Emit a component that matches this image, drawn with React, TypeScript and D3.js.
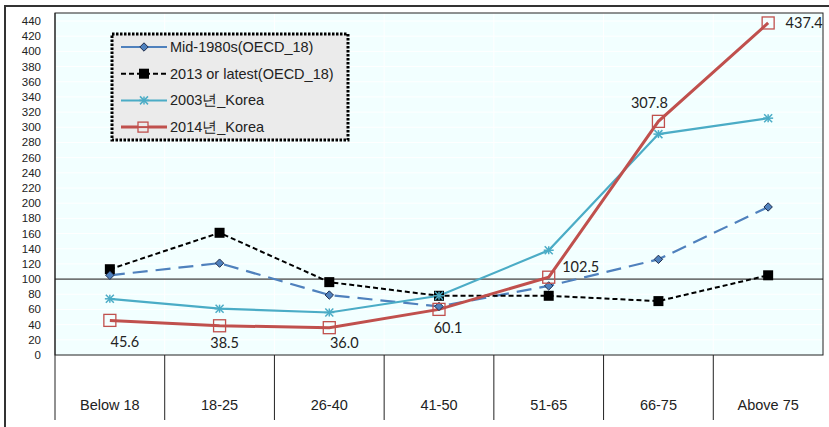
import React, { useEffect, useRef } from 'react'
import * as d3 from 'd3'

const categories = ['Below 18', '18-25', '26-40', '41-50', '51-65', '66-75', 'Above 75']
const mid1980s = [105, 121, 79, 64, 91, 126, 195]
const latest2013 = [113, 161, 96, 78, 78, 71, 105]
const korea2003 = [74, 61, 56, 78, 138, 291, 312]
const korea2014 = [45.6, 38.5, 36.0, 60.1, 102.5, 307.8, 437.4]
const yTicks = d3.range(0, 441, 20)

const W = 829
const H = 427

const App = () => {
  const ref = useRef<SVGGElement | null>(null)

  useEffect(() => {
    const g = d3.select(ref.current)
    g.selectAll('*').remove()

    const left = 55, right = 823, top = 13, bottom = 355, tableBottom = 420

    // scales
    const x = d3.scaleBand().domain(categories).range([left, right])
    const cx = (i: number) => (x(categories[i]) as number) + x.bandwidth() / 2
    const y = d3.scaleLinear().domain([0, 440]).range([bottom, 21])

    // outer frame
    g.append('rect').attr('x', 5).attr('y', 6).attr('width', 840).attr('height', 440)
      .attr('fill', 'white').attr('stroke', '#333').attr('stroke-width', 2)

    // plot background
    g.append('rect').attr('x', left).attr('y', top).attr('width', right - left).attr('height', bottom - top)
      .attr('fill', '#f2ffff')

    // gridlines
    g.append('g').selectAll('line').data(yTicks.slice(1)).enter().append('line')
      .attr('x1', left).attr('x2', right).attr('y1', d => y(d)).attr('y2', d => y(d))
      .attr('stroke', '#ffffff').attr('stroke-width', 1)
    g.append('g').selectAll('line').data(categories.slice(1)).enter().append('line')
      .attr('x1', d => x(d) as number).attr('x2', d => x(d) as number)
      .attr('y1', top).attr('y2', bottom)
      .attr('stroke', '#ffffff').attr('stroke-width', 1)

    // plot border
    g.append('rect').attr('x', left).attr('y', top).attr('width', right - left).attr('height', bottom - top)
      .attr('fill', 'none').attr('stroke', '#222').attr('stroke-width', 1)

    // 100 reference line
    g.append('line').attr('x1', left).attr('x2', right).attr('y1', y(100)).attr('y2', y(100))
      .attr('stroke', '#111').attr('stroke-width', 1)

    // y axis labels
    g.append('g').selectAll('text').data(yTicks).enter().append('text')
      .attr('x', 41).attr('y', d => y(d)).attr('dy', '0.35em')
      .attr('text-anchor', 'end').attr('font-family', 'Arial, Liberation Sans, sans-serif')
      .attr('font-size', 11.5).attr('fill', '#222').text(d => d)

    // category table
    const tbl = g.append('g')
    tbl.append('line').attr('x1', left).attr('x2', left).attr('y1', top).attr('y2', tableBottom)
      .attr('stroke', '#222')
    tbl.selectAll('line.sep').data(categories.slice(1)).enter().append('line')
      .attr('class', 'sep')
      .attr('x1', d => x(d) as number).attr('x2', d => x(d) as number)
      .attr('y1', bottom).attr('y2', tableBottom).attr('stroke', '#222')
    tbl.selectAll('text').data(categories).enter().append('text')
      .attr('x', d => (x(d) as number) + x.bandwidth() / 2).attr('y', 410)
      .attr('text-anchor', 'middle').attr('font-family', 'Arial, Liberation Sans, sans-serif')
      .attr('font-size', 14.5).attr('fill', '#222').text(d => d)

    const line = d3.line<number>().x((_, i) => cx(i)).y(d => y(d))

    // Mid-1980s
    g.append('path').datum(mid1980s).attr('d', line).attr('fill', 'none')
      .attr('stroke', '#4f81bd').attr('stroke-width', 2.2).attr('stroke-dasharray', '15,8')
    // 2013
    g.append('path').datum(latest2013).attr('d', line).attr('fill', 'none')
      .attr('stroke', '#000').attr('stroke-width', 2).attr('stroke-dasharray', '5,3')
    // 2003 Korea
    g.append('path').datum(korea2003).attr('d', line).attr('fill', 'none')
      .attr('stroke', '#4bacc6').attr('stroke-width', 2.2)
    // 2014 Korea
    g.append('path').datum(korea2014).attr('d', line).attr('fill', 'none')
      .attr('stroke', '#c0504d').attr('stroke-width', 3)

    const diamond = (sel: any, px: number, py: number) =>
      sel.append('path').attr('d', d3.symbol(d3.symbolDiamond2, 45)())
        .attr('transform', `translate(${px},${py})`)
        .attr('fill', '#4f81bd').attr('stroke', '#1f2d4d').attr('stroke-width', 1)
    const square = (sel: any, px: number, py: number) =>
      sel.append('rect').attr('x', px - 5).attr('y', py - 5).attr('width', 10).attr('height', 10)
        .attr('fill', '#000')
    const star = (sel: any, px: number, py: number) => {
      const s = sel.append('g').attr('transform', `translate(${px},${py})`)
        .attr('stroke', '#4bacc6').attr('stroke-width', 1.5)
      s.append('line').attr('x1', -5).attr('x2', 5).attr('y1', 0).attr('y2', 0)
      s.append('line').attr('x1', -4).attr('x2', 4).attr('y1', -4).attr('y2', 4)
      s.append('line').attr('x1', -4).attr('x2', 4).attr('y1', 4).attr('y2', -4)
      s.append('line').attr('x1', 0).attr('x2', 0).attr('y1', -4).attr('y2', 4)
    }
    const hollow = (sel: any, px: number, py: number) =>
      sel.append('rect').attr('x', px - 6).attr('y', py - 6).attr('width', 12).attr('height', 12)
        .attr('fill', 'none').attr('stroke', '#c0504d').attr('stroke-width', 1.3)

    const marks = g.append('g')
    latest2013.forEach((d, i) => square(marks, cx(i), y(d)))
    mid1980s.forEach((d, i) => diamond(marks, cx(i), y(d)))
    korea2003.forEach((d, i) => star(marks, cx(i), y(d)))
    korea2014.forEach((d, i) => hollow(marks, cx(i), y(d)))

    // data labels for 2014
    const offsets = [[15, 22], [5, 17], [15, 15], [9, 19], [32, -10], [-9, -18], [36, 0]]
    g.append('g').selectAll('text').data(korea2014).enter().append('text')
      .attr('x', (d, i) => cx(i) + offsets[i][0]).attr('y', (d, i) => y(d) + offsets[i][1])
      .attr('dy', '0.35em').attr('text-anchor', 'middle')
      .attr('font-family', 'Lato, Open Sans, sans-serif').attr('font-size', 14.5)
      .attr('fill', '#222').text(d => d.toFixed(1))

    // legend
    const lg = g.append('g')
    lg.append('rect').attr('x', 112).attr('y', 34).attr('width', 236).attr('height', 106)
      .attr('fill', '#ebebeb').attr('stroke', '#000').attr('stroke-width', 3)
      .attr('stroke-dasharray', '2.5,1.5')
    const items = [
      { label: 'Mid-1980s(OECD_18)', color: '#4f81bd', dash: null, mark: diamond, w: 2 },
      { label: '2013 or latest(OECD_18)', color: '#000', dash: '5,3', mark: square, w: 2 },
      { label: '2003년_Korea', color: '#4bacc6', dash: null, mark: star, w: 2 },
      { label: '2014년_Korea', color: '#c0504d', dash: null, mark: hollow, w: 3 },
    ]
    items.forEach((it, i) => {
      const ly = 47 + i * 26.7
      lg.append('line').attr('x1', 121).attr('x2', 167).attr('y1', ly).attr('y2', ly)
        .attr('stroke', it.color).attr('stroke-width', it.w)
        .attr('stroke-dasharray', it.dash)
      if (it.mark === hollow) {
        lg.append('rect').attr('x', 138).attr('y', ly - 5).attr('width', 10).attr('height', 10)
          .attr('fill', '#ebebeb').attr('stroke', '#c0504d').attr('stroke-width', 1.3)
        lg.append('line').attr('x1', 138).attr('x2', 148).attr('y1', ly).attr('y2', ly)
          .attr('stroke', '#c0504d').attr('stroke-width', 2)
      } else {
        it.mark(lg, 144, ly)
      }
      lg.append('text').attr('x', 170).attr('y', ly).attr('dy', '0.35em')
        .attr('font-family', 'Arial, Liberation Sans, sans-serif').attr('font-size', 14.5)
        .attr('fill', '#222').text(it.label)
    })
  }, [])

  return (
    <div style={{ position: 'absolute', left: 0, top: 0 }}>
      <svg width={W} height={H} style={{ display: 'block' }}>
        <g ref={ref} />
      </svg>
    </div>
  )
}

export default App
